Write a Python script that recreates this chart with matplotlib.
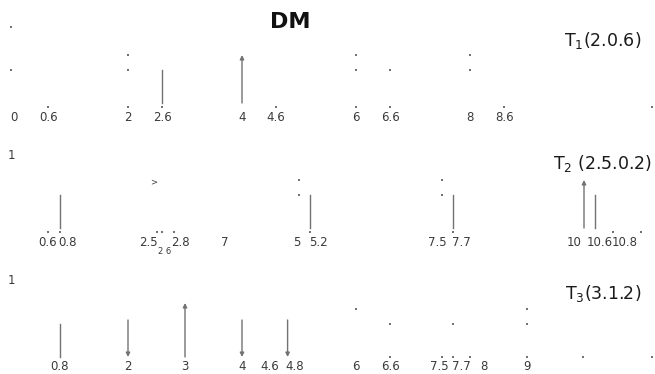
import matplotlib.pyplot as plt

plt.rcParams['font.family'] = ['DejaVu Sans']

# row 1 : T1(2,0.6)
r1_t = [0, 0.6, 2, 2.6, 4, 4.6, 6, 6.6, 8, 8.6]
r1_lab = ['0', '0.6', '2', '2.6', '4', '4.6', '6', '6.6', '8', '8.6']
r1_line = [2.6]
r1_up = [4]
r1_down = []
r1_hi = [2, 6, 8]            # stray dots, upper level
r1_mid = [-0.05, 2, 6, 6.6, 8]  # stray dots, middle level
r1_tick = [0.6, 2, 2.6, 4.6, 6, 6.6, 8.6, 11.2]

# row 2 : T2(2.5,0.2)
r2_t = [0.6, 0.8, 2.5, 2.8, 3.7, 5, 5.2, 7.5, 7.7, 10, 10.6, 10.8]
r2_lab = ['0.6', '0.8', '2.5', '2.8', '7', '5', '5.2', '7.5', '7.7', '10', '10.6', '10.8']
r2_line = [0.8, 5.2, 7.7, 10.2]
r2_up = [10]
r2_down = []
r2_hi = [5, 7.5]
r2_mid = [5, 7.5]
r2_tick = [0.6, 0.8, 2.5, 2.6, 2.8, 5.2, 7.7, 10.5, 11.0]

# row 3 : T3(3,1.2)
r3_t = [0.8, 2, 3, 4, 4.6, 4.8, 6, 6.6, 7.5, 7.7, 8, 9]
r3_lab = ['0.8', '2', '3', '4', '4.6', '4.8', '6', '6.6', '7.5', '7.7', '8', '9']
r3_line = [0.8]
r3_up = [3]
r3_down = [2, 4, 4.8]
r3_hi = [6, 9]
r3_mid = [6.6, 7.7, 9]
r3_tick = [6.6, 7.5, 7.7, 8, 9, 9.99, 11.2]

titles = ['T$_1$(2.0.6)', 'T$_2$ (2.5.0.2)', 'T$_3$(3.1.2)']

# label nudges (pixels) so that close labels do not run into each other
r1_nudge = [0, 0, 0, 0, 0, 0, 0, 0, 0, 0]
r2_nudge = [-1, 8, -8, 7, 0, -2, 8, -4, 8, -10, -18, -5]
r3_nudge = [0, 0, 0, 0, -6, 7, 0, 0, -2, 8, 14, 0]

fig = plt.figure(figsize=(6.55, 3.74), dpi=100)
ax = fig.add_axes([0, 0, 1, 1])
ax.set_xlim(-14 / 57, 641 / 57)
ax.set_ylim(374, 0)
ax.axis('off')

gray = '#727272'
txt = '#3a3a3a'
dot = dict(ls='none', marker='s', color=gray, mew=0)

rows = [
    (r1_t, r1_lab, r1_nudge, r1_line, r1_up, r1_down, r1_hi, r1_mid, r1_tick),
    (r2_t, r2_lab, r2_nudge, r2_line, r2_up, r2_down, r2_hi, r2_mid, r2_tick),
    (r3_t, r3_lab, r3_nudge, r3_line, r3_up, r3_down, r3_hi, r3_mid, r3_tick),
]
bases = [103, 228, 357]
lab_gap = [14, 14, 10]
tick_gap = [4, 4, 0]
up_len = [48, 48, 54]
title_y = [40, 163, 293]
title_x = [11.0, 11.18, 11.0]

for i, (t, lab, nud, line, up, down, hi, mid, tick) in enumerate(rows):
    b = bases[i]
    for x, s, n in zip(t, lab, nud):
        ax.annotate(s, (x, b + lab_gap[i]), xytext=(n * 0.72, 0),
                    textcoords='offset points', fontsize=8.5, color=txt,
                    ha='center', va='center')
    for x in line:
        ax.plot([x, x], [b, b - 33], color=gray, lw=1)
    for x in up:
        ax.annotate('', xy=(x, b - up_len[i]), xytext=(x, b),
                    arrowprops=dict(arrowstyle='-|>', color=gray, lw=1,
                                    mutation_scale=6, shrinkA=0, shrinkB=0))
    for x in down:
        ax.annotate('', xy=(x, b), xytext=(x, b - 37),
                    arrowprops=dict(arrowstyle='-|>', color=gray, lw=1,
                                    mutation_scale=6, shrinkA=0, shrinkB=0))
    ax.plot(hi, [b - 48] * len(hi), ms=1.8, **dot)
    ax.plot(mid, [b - 33] * len(mid), ms=1.5, **dot)
    ax.plot(tick, [b + tick_gap[i]] * len(tick), ms=1.5, **dot)
    ax.text(title_x[i], title_y[i], titles[i], fontsize=12.5, color='#1a1a1a',
            ha='right', va='center')

# row start marks and stray glyphs of the scan
ax.plot([-0.05], [27], ms=2, **dot)
ax.text(-0.05, 155, '1', fontsize=8.5, color=txt, ha='center', va='center')
ax.text(-0.05, 280, '1', fontsize=8.5, color=txt, ha='center', va='center')
ax.text(2.64, 251, '2 6', fontsize=6, color=txt, ha='center', va='center')
ax.text(2.45, 182, '>', fontsize=6, color=txt, ha='center', va='center')

ax.text(4.85, 22, 'DM', fontsize=16, fontweight='bold', color='#111111',
        ha='center', va='center')

plt.savefig('out.png', dpi=100)
